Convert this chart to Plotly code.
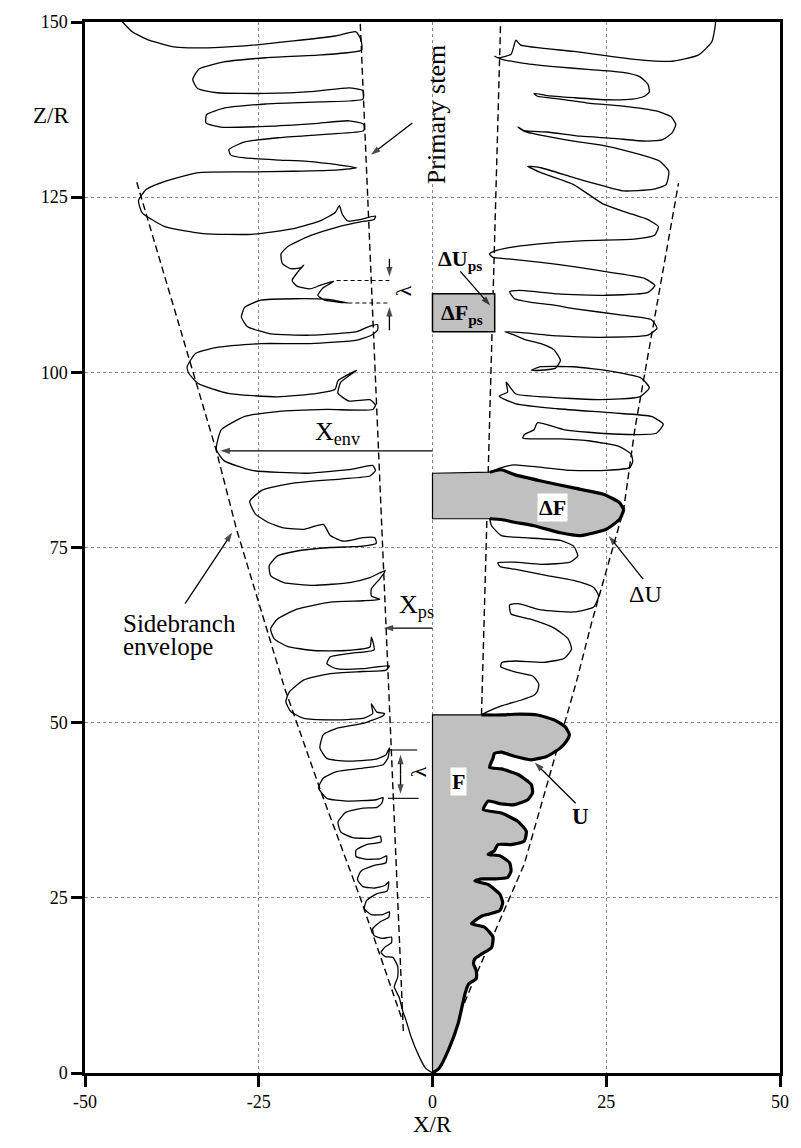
import plotly.graph_objects as go

FONT = "Liberation Serif"

x_ticks = [-50, -25, 0, 25, 50]
x_tick_text = ["-50", "-25", "0", "25", "50"]
z_ticks = [0, 25, 50, 75, 100, 125, 150]

# left-hand dendrite contour, from above the frame down to the tip, (X/R, Z/R)
left_outline = [
    (-45.5, 151.0), (-44.6, 150.0), (-43.2, 148.6), (-40.8, 147.4), (-36.9, 146.4), (-33.7, 146.3),
    (-27.0, 146.6), (-20.0, 147.3), (-14.0, 148.0), (-11.0, 148.6), (-10.3, 147.5), (-10.2, 146.0),
    (-16.0, 145.3), (-24.0, 144.9), (-30.0, 144.3), (-33.6, 143.3), (-34.5, 141.8), (-33.8, 140.5),
    (-31.0, 139.9), (-24.0, 139.8), (-17.0, 140.1), (-12.0, 140.6), (-10.0, 140.2),
    (-10.0, 139.0), (-16.0, 138.6), (-24.0, 138.3), (-30.0, 137.7), (-32.5, 136.8), (-32.6, 135.6),
    (-30.5, 135.0), (-24.0, 135.1), (-17.0, 135.5), (-12.0, 135.9), (-9.9, 135.4),
    (-9.9, 134.5), (-15.0, 134.0), (-22.0, 133.5), (-27.0, 132.9), (-29.3, 131.8), (-29.0, 131.0),
    (-27.0, 130.6), (-22.0, 130.3), (-18.0, 130.1), (-13.5, 129.6), (-10.9, 129.2),
    (-13.5, 128.9), (-20.0, 128.7), (-27.0, 128.6), (-33.7, 128.5), (-38.4, 127.3), (-41.2, 126.1),
    (-42.3, 124.5), (-41.8, 122.8), (-38.5, 120.8), (-33.0, 119.8), (-26.0, 119.7), (-20.0, 120.5),
    (-16.0, 121.7), (-14.0, 122.8), (-13.4, 123.8), (-13.0, 122.6), (-12.2, 121.6), (-10.5, 121.8),
    (-8.2, 122.3), (-8.4, 121.8), (-10.2, 121.5),
    (-13.8, 120.7), (-17.6, 119.5), (-20.9, 117.9), (-21.8, 116.9), (-21.6, 115.5), (-20.4, 114.8),
    (-19.0, 114.9), (-18.5, 115.3), (-19.4, 114.3), (-20.2, 113.1), (-19.5, 112.3), (-17.6, 111.9),
    (-16.2, 112.4), (-14.2, 113.0), (-15.8, 112.0), (-16.5, 111.0), (-15.5, 110.3), (-12.1, 109.9),
    (-15.0, 110.4), (-19.9, 110.5), (-24.7, 110.3), (-27.0, 109.3), (-27.5, 107.9), (-26.6, 106.5),
    (-23.3, 105.5), (-17.6, 105.3), (-10.9, 105.8), (-9.0, 106.6), (-7.9, 106.8), (-7.9, 106.0),
    (-8.8, 105.3), (-10.9, 104.6),
    (-17.6, 104.1), (-24.7, 104.1), (-30.8, 103.6), (-34.1, 102.7), (-35.3, 100.8), (-35.1, 99.9),
    (-33.7, 98.4), (-29.4, 97.0), (-22.3, 96.5), (-16.6, 97.0), (-14.0, 97.6), (-13.6, 98.8),
    (-10.9, 100.3), (-13.2, 98.6), (-13.6, 97.0), (-12.0, 95.9), (-9.0, 96.1), (-8.2, 95.3),
    (-8.6, 94.7), (-15.2, 94.7), (-22.3, 94.4), (-27.0, 93.7), (-30.4, 91.8), (-31.1, 89.0),
    (-30.0, 87.4), (-26.0, 86.0), (-18.0, 85.6), (-11.5, 86.2), (-8.6, 86.7), (-8.2, 86.0),
    (-9.0, 85.2), (-13.0, 84.8), (-20.0, 84.2), (-24.5, 83.2), (-26.3, 81.6), (-25.5, 79.8),
    (-23.7, 78.6), (-21.4, 77.8), (-18.5, 77.6), (-15.7, 78.3), (-14.7, 76.7), (-12.8, 75.9),
    (-10.0, 76.4), (-8.3, 76.4), (-8.1, 75.6), (-10.0, 75.2),
    (-11.9, 75.1), (-14.7, 75.0), (-19.5, 74.5), (-22.3, 73.8), (-23.5, 72.4), (-23.3, 71.0),
    (-21.4, 70.0), (-17.1, 69.6), (-11.9, 70.0), (-9.0, 70.7), (-6.8, 71.7), (-7.6, 70.5),
    (-8.8, 69.1), (-8.8, 68.1), (-7.6, 67.6),
    (-10.0, 67.4), (-14.7, 67.2), (-19.5, 66.2), (-22.3, 64.8), (-23.3, 63.4), (-22.8, 62.0),
    (-20.9, 60.9), (-17.1, 60.3), (-12.4, 60.3), (-9.0, 60.8), (-8.8, 62.2), (-8.4, 60.4),
    (-11.9, 59.9), (-14.7, 59.4), (-15.2, 58.4), (-13.8, 57.7), (-10.0, 57.7), (-6.2, 58.1),
    (-6.7, 57.5),
    (-10.0, 57.3), (-14.7, 57.0), (-18.5, 56.1), (-20.6, 54.4), (-21.1, 53.0), (-20.4, 51.6),
    (-18.5, 50.6), (-14.7, 50.4), (-10.0, 50.6), (-8.6, 51.3), (-8.8, 52.7), (-8.0, 51.5),
    (-6.9, 51.3), (-7.1, 51.0),
    (-10.0, 49.9), (-13.8, 49.2), (-15.7, 48.3), (-16.2, 46.4), (-15.2, 44.9), (-12.4, 44.5),
    (-8.1, 44.8), (-6.7, 45.4), (-6.2, 46.4), (-6.4, 45.0), (-7.1, 44.0),
    (-10.0, 43.5), (-13.8, 43.0), (-15.7, 42.1), (-16.4, 40.7), (-15.2, 39.2), (-12.4, 38.8),
    (-8.1, 39.0), (-7.1, 39.3), (-7.3, 38.5), (-8.0, 37.9),
    (-10.0, 37.8), (-12.5, 37.2), (-13.6, 35.8), (-13.2, 34.4), (-11.5, 33.6), (-9.0, 33.5),
    (-7.5, 33.8), (-7.4, 33.0), (-9.5, 32.6), (-11.0, 31.8), (-11.0, 30.9), (-9.5, 30.5),
    (-7.5, 30.6), (-6.6, 31.0), (-6.7, 30.0), (-8.5, 29.6), (-10.3, 28.8), (-10.8, 27.6),
    (-10.0, 26.6), (-8.3, 26.4), (-6.8, 26.8), (-6.3, 27.3), (-6.5, 26.0), (-8.0, 25.6),
    (-9.5, 24.6), (-9.8, 23.4), (-8.8, 22.6), (-7.2, 22.6), (-6.2, 23.0), (-6.3, 22.2),
    (-7.5, 21.6), (-8.6, 20.6), (-8.4, 19.6), (-7.2, 19.2), (-5.9, 19.4), (-5.9, 18.6),
    (-6.8, 18.0), (-7.4, 17.2), (-6.8, 16.6), (-5.7, 16.5), (-5.0, 15.2), (-5.0, 13.7),
    (-5.5, 12.3), (-4.8, 10.8), (-4.3, 8.9), (-3.8, 7.5), (-3.1, 5.2), (-1.9, 2.3), (-1.0, 0.7),
    (0.0, 0.0),
]

# right-hand contour above the dF slice, from above the frame down to Z/R = 85.75
right_outline_upper = [
    (40.7, 151.0), (40.7, 149.6), (40.2, 147.2), (38.3, 145.3), (34.5, 144.4), (29.8, 144.6),
    (20.3, 145.8), (12.7, 146.7), (12.0, 147.4), (11.3, 145.4), (9.4, 144.9), (8.95, 145.1),
    (9.9, 144.7), (13.2, 144.1), (17.9, 143.6), (22.7, 143.2), (27.4, 142.8), (29.8, 142.2),
    (31.0, 141.1), (31.2, 140.0), (30.5, 139.4), (28.8, 139.0), (25.0, 138.9), (20.3, 139.2),
    (16.5, 139.5), (14.6, 139.8),
    (15.1, 139.4), (18.4, 139.0), (22.7, 138.4), (27.4, 138.0), (32.2, 137.3), (34.3, 136.5),
    (35.0, 135.4), (34.5, 134.2), (33.1, 133.2), (30.7, 133.0), (26.0, 133.4), (21.3, 133.7),
    (16.5, 134.3), (13.2, 134.5), (12.3, 135.0),
    (13.2, 134.4), (20.3, 133.0), (25.0, 132.3), (29.8, 131.1), (32.6, 130.2), (34.0, 128.7),
    (33.6, 126.8), (31.7, 126.1), (27.4, 125.9), (24.6, 126.6), (20.3, 127.8), (15.6, 129.2),
    (13.7, 129.4),
    (15.6, 128.5), (20.3, 126.8), (24.6, 124.0), (28.0, 122.8), (31.0, 121.8), (32.5, 120.8),
    (32.0, 119.6), (29.0, 119.0), (22.0, 118.8), (15.0, 118.3), (11.0, 117.8), (8.9, 117.3),
    (8.2, 116.9), (8.7, 116.4),
    (10.9, 116.2), (15.6, 115.7), (20.3, 115.1), (26.0, 114.2), (30.5, 113.4), (32.0, 112.4),
    (31.0, 111.4), (25.0, 111.0), (18.0, 111.2), (12.5, 111.7), (11.1, 111.5),
    (11.8, 110.5), (14.2, 110.0), (17.5, 109.6), (20.3, 109.1), (27.0, 108.2), (31.5, 107.5),
    (32.3, 106.3), (31.0, 105.3), (24.0, 105.0), (18.0, 105.2), (12.5, 105.7), (10.4, 105.8),
    (11.8, 105.3), (13.2, 104.7), (15.6, 104.1), (17.5, 103.2), (18.4, 101.7), (17.7, 100.6),
    (15.6, 100.3), (14.2, 100.3),
    (15.6, 100.8), (20.3, 100.8), (26.0, 100.1), (30.0, 99.2), (31.2, 97.8), (29.8, 96.5),
    (24.0, 96.1), (16.0, 96.5), (12.0, 96.9), (10.6, 98.6), (10.8, 97.2), (9.6, 96.6),
    (12.0, 95.5), (18.0, 94.8), (26.0, 94.2), (31.5, 93.7), (33.2, 92.6), (32.2, 91.3),
    (26.0, 91.2), (19.0, 91.8), (15.1, 92.8), (14.6, 91.8), (13.2, 91.1), (13.0, 90.6),
    (18.4, 90.5), (22.7, 90.2), (26.9, 89.4), (28.6, 88.3), (28.8, 87.3), (28.4, 86.4),
    (25.0, 86.0), (20.0, 86.0), (15.0, 86.5), (11.8, 86.8), (9.9, 86.4), (8.24, 85.75),
]

# right-hand contour between the dF slice and the top of F
right_outline_lower = [
    (8.24, 79.1), (8.5, 78.1), (9.9, 76.7), (13.2, 76.4), (18.4, 76.0), (20.3, 75.2), (20.9, 73.8),
    (19.8, 72.9), (15.6, 72.6), (11.8, 72.9), (9.4, 72.8), (9.7, 72.3), (11.8, 71.9), (16.5, 71.0),
    (20.3, 70.3), (23.2, 69.3), (23.9, 68.1), (23.2, 66.5), (20.3, 65.8), (15.6, 66.1),
    (12.3, 67.0), (11.1, 66.8), (11.3, 65.5), (14.0, 64.8), (17.5, 63.5), (19.5, 62.0),
    (20.0, 60.5), (19.0, 59.2), (16.0, 58.6), (12.0, 58.8), (10.0, 58.6), (9.8, 58.0),
    (12.0, 57.2), (14.5, 56.6), (15.3, 55.5), (15.1, 54.5), (14.6, 53.9), (12.7, 53.2),
    (9.9, 52.4), (7.76, 51.5), (7.05, 51.1),
]

# interface U bounding the shaded area F (tip up to Z/R = 51)
u_outline = [
    (0.0, 0.0), (0.9, 0.6), (2.3, 3.3), (3.7, 7.1), (4.7, 11.4), (5.2, 12.7), (6.3, 13.5),
    (6.3, 14.6), (5.9, 15.6), (6.1, 16.3), (7.1, 17.0), (8.5, 17.9), (8.7, 19.4), (7.5, 20.8),
    (5.6, 21.3), (7.1, 22.4), (8.2, 22.7), (9.7, 23.2), (10.1, 24.3), (9.7, 25.5), (8.0, 26.9),
    (6.1, 27.4), (7.1, 27.7), (8.9, 27.7), (10.8, 27.9), (11.3, 28.8), (11.1, 30.0), (9.7, 31.0),
    (8.0, 31.2), (8.9, 31.7), (9.4, 32.6), (11.3, 32.6), (13.2, 33.1), (13.5, 34.5), (12.3, 35.9),
    (9.9, 37.1), (7.3, 37.6), (8.0, 38.8), (9.9, 38.4), (11.8, 38.3), (13.7, 39.0), (14.4, 40.0),
    (14.2, 41.2), (12.3, 42.6), (9.9, 43.4), (8.2, 43.6), (8.7, 44.9), (8.9, 45.6), (9.9, 45.8),
    (11.8, 45.2), (14.2, 44.7), (16.5, 45.2), (18.4, 46.4), (19.3, 47.4), (19.7, 48.3),
    (19.1, 49.4), (17.5, 50.4), (15.1, 51.1), (11.8, 51.2), (9.9, 51.1), (7.05, 51.1),
]
# straight borders of F: along its top and down the growth axis X/R = 0
f_border = [(7.05, 51.1), (4.0, 51.1), (1.0, 51.1), (0.2, 51.1), (0.0, 51.1), (0.0, 50.9),
            (0.0, 40.0), (0.0, 30.0), (0.0, 20.0), (0.0, 10.0), (0.0, 2.0), (0.0, 0.3), (0.0, 0.0)]

# sidebranch increment dU bounding the shaded slice dF
du_outline = [
    (8.24, 85.75), (9.9, 86.1), (11.8, 85.4), (15.6, 84.5), (20.3, 83.5), (24.6, 82.6),
    (26.9, 81.4), (27.5, 80.4), (26.9, 79.0), (25.0, 77.6), (21.3, 76.7), (18.4, 77.1),
    (14.6, 78.1), (11.8, 78.6), (9.9, 79.0), (8.24, 79.1),
]
df_slice_z = [79.1, 85.6]
dfps_x = [0.0, 8.95]
dfps_z = [105.8, 111.2]

# primary stem positions and sidebranch envelopes (dashed)
stem_left = [(-4.2, 6.0), (-10.4, 150.0)]
stem_right = [(7.05, 51.1), (9.8, 150.0)]
env_left = [(-4.5, 8.0), (-10.4, 25.0), (-16.0, 40.0), (-21.3, 55.0), (-28.2, 77.6),
            (-31.1, 88.8), (-42.6, 127.3)]
env_right = [(4.6, 10.0), (6.1, 13.6), (13.2, 29.8), (20.7, 55.8), (22.9, 64.3), (27.5, 80.4),
             (29.1, 91.8), (35.4, 127.0)]

# pointer arrows: (tail, head)
pointer_arrows = [
    ((-2.9, 135.6), (-9.3, 130.7)),   # Primary stem
    ((4.0, 114.4), (8.7, 109.1)),     # dU_ps
    ((30.3, 70.5), (25.0, 77.1)),     # dU
    ((20.6, 38.5), (14.3, 44.7)),     # U
    ((0.0, 88.8), (-31.1, 88.8)),     # X_env
    ((0.0, 63.5), (-7.6, 63.5)),      # X_ps
    ((-35.6, 67.0), (-28.5, 77.6)),   # sidebranch envelope
    ((-6.2, 116.2), (-6.2, 113.1)),   # wavelength, upper pair
    ((-6.2, 106.0), (-6.2, 109.9)),
]
# double-headed wavelength arrow near the lower left stem
lam_lower = [(-4.6, 46.0), (-4.6, 39.3)]


def xs(pts):
    return [p[0] for p in pts]


def zs(pts):
    return [p[1] for p in pts]


fig = go.Figure()
GRAY = "rgb(192,192,192)"
THIN = dict(color="black", width=1.3, shape="spline", smoothing=0.5)
THICK = dict(color="black", width=3.2, shape="spline", smoothing=0.5)

for pts in (stem_left, stem_right, env_left, env_right):
    fig.add_trace(go.Scatter(x=xs(pts), y=zs(pts), mode="lines",
                             line=dict(color="black", width=1.4, dash="7px,4px")))

for pts in (left_outline, right_outline_upper, right_outline_lower):
    fig.add_trace(go.Scatter(x=xs(pts), y=zs(pts), mode="lines", line=THIN))

# shaded F, then its straight borders and the thick interface U
f_poly = u_outline + f_border[1:]
fig.add_trace(go.Scatter(x=xs(f_poly), y=zs(f_poly), mode="lines", fill="toself", fillcolor=GRAY,
                         line=dict(color="rgba(0,0,0,0)", width=0, shape="spline", smoothing=0.5)))
fig.add_trace(go.Scatter(x=xs(f_border), y=zs(f_border), mode="lines",
                         line=dict(color="black", width=1.2)))
fig.add_trace(go.Scatter(x=xs(u_outline), y=zs(u_outline), mode="lines", line=THICK))

# shaded dF slice
df_poly = [(0.0, df_slice_z[1])] + du_outline + [(0.0, df_slice_z[0]), (0.0, df_slice_z[1])]
fig.add_trace(go.Scatter(x=xs(df_poly), y=zs(df_poly), mode="lines", fill="toself",
                         fillcolor=GRAY, line=dict(color="black", width=1.2)))
fig.add_trace(go.Scatter(x=xs(du_outline), y=zs(du_outline), mode="lines", line=THICK))

# shaded dF_ps
fig.add_trace(go.Scatter(x=[dfps_x[0], dfps_x[1], dfps_x[1], dfps_x[0], dfps_x[0]],
                         y=[dfps_z[0], dfps_z[0], dfps_z[1], dfps_z[1], dfps_z[0]],
                         mode="lines", fill="toself", fillcolor=GRAY,
                         line=dict(color="black", width=1.5)))

# wavelength guide lines
fig.add_trace(go.Scatter(x=[-13.8, -6.2, None, -12.1, -6.2], y=[113.1, 113.1, None, 109.9, 109.9],
                         mode="lines", line=dict(color="black", width=1.1, dash="4px,3px")))
fig.add_trace(go.Scatter(x=[-6.4, -2.2, None, -6.4, -2.0], y=[46.1, 46.1, None, 39.2, 39.2],
                         mode="lines", line=dict(color="black", width=1.1)))


def add_arrow(tail, head):
    fig.add_trace(go.Scatter(
        x=[tail[0], head[0]], y=[tail[1], head[1]], mode="lines+markers",
        line=dict(color="black", width=1.3),
        marker=dict(symbol=["circle", "arrow"], size=[0, 10], color="black",
                    angleref="previous", standoff=4, line=dict(width=0))))


for tail, head in pointer_arrows:
    add_arrow(tail, head)
mid = ((lam_lower[0][0] + lam_lower[1][0]) / 2, (lam_lower[0][1] + lam_lower[1][1]) / 2)
add_arrow(mid, lam_lower[0])
add_arrow(mid, lam_lower[1])

ann = []


def label(x, z, text, size=22, bold=False, bg=None, angle=0, xanchor="center"):
    t = f"<b>{text}</b>" if bold else text
    d = dict(x=x, y=z, xref="x", yref="y", text=t, showarrow=False, textangle=angle,
             xanchor=xanchor, font=dict(family=FONT, size=size, color="black"), borderpad=1)
    if bg:
        d["bgcolor"] = bg
    ann.append(d)


label(0.6, 136.8, "Primary stem", size=26, angle=-90)
label(4.0, 116.0, "ΔU<sub>ps</sub>", size=22, bold=True)
label(4.3, 108.3, "ΔF<sub>ps</sub>", size=22, bold=True)
label(17.2, 80.7, "ΔF", size=22, bold=True, bg="white")
label(30.6, 68.4, "ΔU", size=24)
label(3.7, 41.6, "F", size=22, bold=True, bg="white")
label(21.3, 36.6, "U", size=23, bold=True)
label(-13.6, 91.3, "X<sub>env</sub>", size=26)
label(-2.3, 66.6, "X<sub>ps</sub>", size=26)
label(-44.8, 64.2, "Sidebranch", size=25, xanchor="left")
label(-44.8, 60.9, "envelope", size=25, xanchor="left")
label(-4.2, 111.6, "λ", size=22, angle=-90)
label(-2.0, 43.0, "λ", size=22, angle=-90)

# axis titles
ann.append(dict(x=-0.077, y=0.925, xref="paper", yref="paper", text="Z/R", showarrow=False,
                font=dict(family=FONT, size=23, color="black")))
ann.append(dict(x=0.5, y=-0.063, xref="paper", yref="paper", text="X/R", showarrow=False,
                font=dict(family=FONT, size=23, color="black")))

axis_style = dict(ticks="outside", ticklen=11, tickwidth=2.5, tickcolor="black",
                  showline=True, linewidth=2.5, linecolor="black", mirror=True,
                  showgrid=True, gridcolor="#8a8a8a", griddash="dot", gridwidth=1,
                  zeroline=False, tickfont=dict(family=FONT, size=18, color="black"))

fig.update_layout(
    width=801, height=1148, margin=dict(l=85, r=12, t=17, b=75),
    plot_bgcolor="white", paper_bgcolor="white", showlegend=False,
    annotations=ann,
    xaxis=dict(range=[-50, 50], tickvals=x_ticks, ticktext=x_tick_text, **axis_style),
    yaxis=dict(range=[0, 150], tickvals=z_ticks, **axis_style),
)

fig.write_html("out.html")
